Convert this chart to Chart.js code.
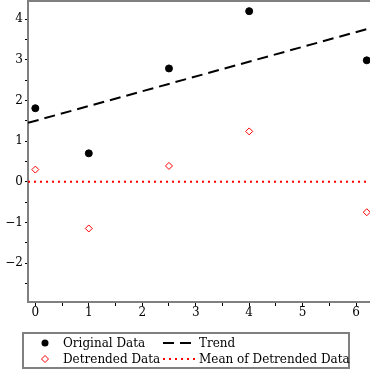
<!DOCTYPE html>
<html>
<head>
<meta charset="utf-8">
<script src="https://cdn.jsdelivr.net/npm/chart.js@4.4.1/dist/chart.umd.min.js"></script>
<style>
    body { margin: 0; background: #fff; overflow: hidden; }
    #wrap { position: relative; width: 370px; height: 370px; }
    #legend {
        position: absolute; left: 22px; top: 332px; width: 324px; height: 33px;
        border: 2px solid #808080; font-family: "DejaVu Serif", serif; font-size: 12px;
        color: #000;
    }
    .item { position: absolute; white-space: nowrap; line-height: 14px; }
    .sym { position: absolute; }
    .sym svg { display: block; }
</style>
</head>
<body>
<div id="wrap">
    <canvas id="trendChart" width="370" height="370"></canvas>
    <div id="legend"></div>
</div>
<script>
// data
const xValues = [0, 1, 2.5, 4, 6.2];
const originalData = [1.81, 0.70, 2.79, 4.20, 2.99];
const detrendedData = [0.30, -1.15, 0.39, 1.24, -0.75];
const trendX = [-0.137, 6.26];
const trendY = [1.45, 3.78];
const meanDetrended = 0;
const xTicks = [0, 0.5, 1, 1.5, 2, 2.5, 3, 3.5, 4, 4.5, 5, 5.5, 6];
const yTicks = [-2.5, -2, -1.5, -1, -0.5, 0, 0.5, 1, 1.5, 2, 2.5, 3, 3.5, 4];
const legendNames = ['Original Data', 'Trend', 'Detrended Data', 'Mean of Detrended Data'];

const axisGray = '#808080';
const serif = '"DejaVu Serif", serif';

function fmt(v) {
    if (!Number.isInteger(v)) return '';
    return v < 0 ? '\u2212' + Math.abs(v) : String(v);
}

// top frame line
const framePlugin = {
    id: 'frame',
    afterDraw(chart) {
        const { ctx, chartArea } = chart;
        ctx.save();
        ctx.strokeStyle = axisGray;
        ctx.lineWidth = 2;
        ctx.beginPath();
        ctx.moveTo(chartArea.left, chartArea.top + 1);
        ctx.lineTo(chartArea.right, chartArea.top + 1);
        ctx.stroke();
        ctx.restore();
    }
};

document.addEventListener('DOMContentLoaded', function () {
    const ctx = document.getElementById('trendChart').getContext('2d');
    new Chart(ctx, {
        type: 'scatter',
        data: {
            datasets: [
                {
                    label: legendNames[0],
                    data: xValues.map((x, i) => ({ x: x, y: originalData[i] })),
                    pointStyle: 'circle',
                    pointRadius: 3.5,
                    backgroundColor: '#000',
                    borderColor: '#000'
                },
                {
                    label: legendNames[1],
                    type: 'line',
                    data: trendX.map((x, i) => ({ x: x, y: trendY[i] })),
                    borderColor: '#000',
                    borderWidth: 2,
                    borderDash: [11, 6],
                    pointRadius: 0,
                    fill: false
                },
                {
                    label: legendNames[2],
                    data: xValues.map((x, i) => ({ x: x, y: detrendedData[i] })),
                    pointStyle: 'rectRot',
                    pointRadius: 3.5,
                    borderWidth: 1,
                    backgroundColor: '#fff',
                    borderColor: '#ff0000'
                },
                {
                    label: legendNames[3],
                    type: 'line',
                    data: trendX.map(x => ({ x: x, y: meanDetrended })),
                    borderColor: '#ff0000',
                    borderWidth: 2,
                    borderDash: [2, 4],
                    pointRadius: 0,
                    fill: false
                }
            ]
        },
        options: {
            responsive: false,
            animation: false,
            layout: { autoPadding: false, padding: { top: 0, right: 0, bottom: 48, left: 0 } },
            plugins: {
                legend: { display: false },
                tooltip: { enabled: false }
            },
            scales: {
                x: {
                    type: 'linear',
                    min: trendX[0],
                    max: trendX[1],
                    afterBuildTicks: s => { s.ticks = xTicks.map(v => ({ value: v })); },
                    afterFit: s => { s.height = 20; s.paddingLeft = 0; s.paddingRight = 0; },
                    border: { color: axisGray, width: 2 },
                    grid: {
                        drawOnChartArea: false,
                        drawTicks: true,
                        tickLength: 4,
                        tickColor: '#000',
                        tickWidth: 1
                    },
                    ticks: {
                        autoSkip: false,
                        maxRotation: 0,
                        padding: 0,
                        color: '#000',
                        font: { family: serif, size: 12 },
                        callback: v => fmt(v)
                    }
                },
                y: {
                    min: -2.96,
                    max: 4.475,
                    afterBuildTicks: s => { s.ticks = yTicks.map(v => ({ value: v })); },
                    afterFit: s => { s.width = 28; s.paddingTop = 0; s.paddingBottom = 0; },
                    border: { color: axisGray, width: 2 },
                    grid: {
                        drawOnChartArea: false,
                        drawTicks: true,
                        tickLength: 3,
                        tickColor: '#000',
                        tickWidth: 1
                    },
                    ticks: {
                        autoSkip: false,
                        padding: 2,
                        color: '#000',
                        font: { family: serif, size: 12 },
                        callback: v => fmt(v)
                    }
                }
            }
        },
        plugins: [framePlugin]
    });

    // html legend, two columns
    const legend = document.getElementById('legend');
    const items = [
        { text: legendNames[0], sym: '<svg width="8" height="8"><circle cx="4" cy="4" r="3.5" fill="#000"/></svg>', sx: 17, sy: 3, tx: 39, ty: 2 },
        { text: legendNames[1], sym: '<svg width="32" height="4"><line x1="0" y1="2" x2="32" y2="2" stroke="#000" stroke-width="2" stroke-dasharray="11,6"/></svg>', sx: 139, sy: 5, tx: 175, ty: 2 },
        { text: legendNames[2], sym: '<svg width="8" height="8"><polygon points="4,0.5 7.5,4 4,7.5 0.5,4" fill="#fff" stroke="#f00" stroke-width="1"/></svg>', sx: 17, sy: 3, tx: 39, ty: 18 },
        { text: legendNames[3], sym: '<svg width="32" height="4"><line x1="0" y1="2" x2="32" y2="2" stroke="#f00" stroke-width="2" stroke-dasharray="2,4"/></svg>', sx: 139, sy: 5, tx: 175, ty: 18 }
    ];
    items.forEach(function (it) {
        const s = document.createElement('span');
        s.className = 'sym';
        s.style.left = it.sx + 'px';
        s.style.top = (it.ty + it.sy) + 'px';
        s.innerHTML = it.sym;
        legend.appendChild(s);
        const t = document.createElement('span');
        t.className = 'item';
        t.style.left = it.tx + 'px';
        t.style.top = it.ty + 'px';
        t.textContent = it.text;
        legend.appendChild(t);
    });
});
</script>
</body>
</html>
